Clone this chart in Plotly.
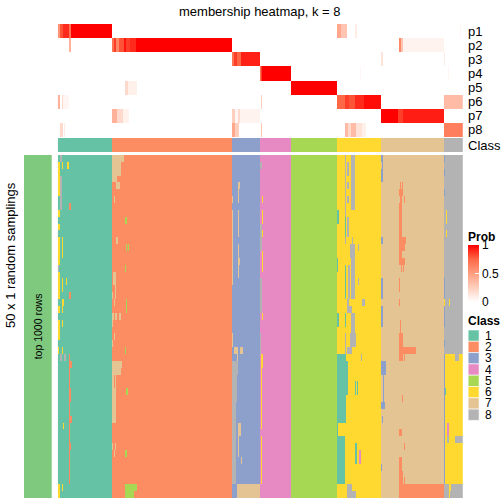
import numpy as np
import plotly.graph_objects as go

W, H = 504, 504
TITLE = "membership heatmap, k = 8"
PROB_ROWS = ["p1", "p2", "p3", "p4", "p5", "p6", "p7", "p8"]
CLASS_LABELS = ["1", "2", "3", "4", "5", "6", "7", "8"]
CLASS_COLORS = ["#66C2A5", "#FC8D62", "#8DA0CB", "#E78AC3",
                "#A6D854", "#FFD92F", "#E5C494", "#B3B3B3"]
CLASS_SIZES = [54, 121, 28, 31, 47, 44, 63, 19]
N_SAMPLINGS = 50
SAMPLING_COLOR = "#7FC97F"

# membership probability segments: (col_start, col_end, prob)
P1 = [(0, 1, 0.55), (2, 4, 0.8), (5, 10, 0.9), (11, 12, 0.7), (13, 53, 1.0),
      (281, 284, 0.45), (285, 290, 0.3), (299, 300, 0.1), (404, 404, 0.05)]
P2 = [(11, 12, 0.4), (54, 56, 0.7), (57, 58, 0.85), (59, 61, 0.6), (62, 66, 0.8),
      (67, 68, 0.95), (69, 72, 0.85), (73, 78, 0.9), (79, 174, 1.0),
      (343, 344, 0.6), (345, 346, 0.3), (347, 387, 0.06)]
P3 = [(175, 176, 0.7), (177, 179, 0.85), (180, 183, 0.75), (184, 202, 0.92),
      (325, 326, 0.15), (388, 388, 0.1)]
P4 = [(203, 203, 0.7), (204, 204, 0.85), (205, 233, 1.0), (304, 304, 0.04), (392, 392, 0.05)]
P5 = [(68, 70, 0.2), (71, 79, 0.08), (234, 280, 1.0)]
P6 = [(0, 1, 0.4), (4, 4, 0.2), (5, 10, 0.05), (204, 204, 0.25), (281, 288, 0.75),
      (289, 292, 0.85), (293, 298, 0.8), (299, 307, 0.9), (308, 324, 0.97), (388, 406, 0.35)]
P7 = [(54, 59, 0.4), (60, 65, 0.2), (66, 71, 0.07), (175, 177, 0.25), (178, 180, 0.05),
      (181, 182, 0.2), (183, 202, 0.06), (325, 341, 1.0), (342, 346, 0.85), (347, 387, 0.93)]
P8 = [(2, 4, 0.2), (6, 6, 0.1), (175, 177, 0.45), (178, 181, 0.25), (204, 204, 0.3),
      (289, 291, 0.35), (292, 294, 0.2), (295, 299, 0.35), (300, 305, 0.15),
      (306, 309, 0.08), (388, 406, 0.65)]
PROB_SEGMENTS = [P1, P2, P3, P4, P5, P6, P7, P8]
PROB_TICKS = [0, 0.5, 1]

# per-sampling class deviations: (row_start, row_end, col_start, col_end, class)
DEV_C1 = [(1, 5, 0, 1, 6), (8, 8, 0, 1, 6), (10, 10, 0, 1, 6), (12, 15, 0, 1, 6),
          (16, 16, 0, 0, 8), (17, 20, 0, 1, 6), (22, 22, 0, 1, 6), (24, 26, 0, 1, 6),
          (28, 28, 0, 0, 6), (48, 49, 0, 1, 6), (0, 0, 2, 3, 8), (3, 7, 2, 3, 8),
          (1, 1, 4, 4, 6), (1, 1, 9, 10, 6), (7, 7, 11, 12, 2), (12, 14, 4, 4, 6),
          (18, 18, 8, 8, 6), (18, 19, 4, 4, 6), (20, 20, 11, 12, 2), (21, 21, 4, 5, 6),
          (22, 22, 4, 4, 6), (24, 24, 4, 4, 6), (28, 28, 4, 4, 6), (29, 29, 2, 3, 8),
          (29, 29, 6, 7, 8), (29, 47, 11, 11, 2), (30, 30, 11, 13, 2), (34, 35, 11, 12, 2),
          (38, 38, 11, 13, 2), (42, 42, 11, 12, 2), (39, 39, 5, 5, 6), (48, 48, 4, 4, 6)]
DEV_C2 = [(0, 0, 54, 66, 7), (1, 2, 54, 63, 7), (3, 3, 55, 59, 7), (4, 4, 59, 62, 7),
          (6, 6, 57, 57, 7), (9, 9, 68, 69, 5), (12, 12, 59, 60, 7), (13, 13, 69, 69, 5),
          (13, 13, 71, 71, 5), (16, 16, 68, 68, 5), (17, 18, 54, 54, 7), (17, 18, 56, 58, 7),
          (19, 20, 58, 58, 7), (20, 20, 54, 55, 7), (21, 21, 57, 57, 7), (21, 22, 69, 69, 5),
          (23, 23, 55, 56, 7), (23, 23, 58, 59, 7), (23, 23, 62, 63, 7), (24, 24, 55, 55, 7),
          (26, 26, 57, 57, 7), (27, 27, 55, 55, 7), (28, 28, 68, 68, 5), (30, 31, 54, 63, 7),
          (30, 30, 64, 64, 7), (32, 33, 54, 56, 7), (32, 33, 58, 58, 7), (34, 38, 54, 58, 7),
          (34, 34, 69, 70, 5), (42, 42, 55, 55, 7), (42, 42, 58, 58, 7), (43, 43, 57, 57, 7),
          (43, 43, 68, 69, 5), (48, 49, 68, 69, 5), (48, 48, 70, 79, 5), (49, 49, 70, 76, 5)]
DEV_C3 = [(6, 6, 175, 175, 7), (8, 18, 175, 175, 7), (4, 4, 181, 182, 7), (5, 6, 181, 181, 7),
          (8, 11, 181, 181, 7), (13, 17, 181, 181, 7), (15, 15, 182, 182, 7),
          (26, 27, 175, 175, 7), (28, 28, 177, 179, 7), (28, 28, 183, 185, 7),
          (28, 29, 180, 180, 7), (30, 31, 175, 180, 8), (32, 35, 175, 179, 8),
          (36, 47, 175, 178, 8), (39, 40, 181, 183, 7), (41, 43, 181, 181, 7),
          (44, 44, 184, 184, 7), (48, 49, 180, 202, 7)]
DEV_C4 = [(1, 1, 203, 204, 8), (10, 13, 203, 204, 8), (18, 22, 203, 204, 8),
          (6, 6, 205, 205, 6), (8, 9, 205, 205, 6), (11, 11, 205, 205, 6),
          (14, 16, 205, 205, 6), (23, 23, 205, 205, 6), (26, 28, 203, 203, 8),
          (29, 30, 204, 205, 6), (31, 39, 204, 204, 6), (41, 47, 204, 204, 6)]
DEV_C6 = [(0, 12, 289, 289, 8), (0, 7, 295, 298, 8), (1, 2, 291, 292, 8), (4, 4, 291, 292, 8),
          (6, 6, 291, 292, 8), (9, 11, 291, 292, 8), (12, 12, 296, 296, 8),
          (13, 14, 294, 298, 8), (13, 13, 302, 302, 8), (15, 15, 295, 298, 8),
          (16, 20, 292, 293, 8), (16, 20, 295, 298, 8), (18, 18, 302, 302, 8),
          (21, 21, 291, 292, 8), (21, 21, 306, 308, 8), (22, 22, 291, 295, 8),
          (23, 25, 295, 298, 8), (8, 9, 281, 282, 1), (15, 16, 281, 281, 1),
          (23, 24, 281, 282, 1), (9, 11, 289, 289, 1), (16, 20, 289, 289, 1),
          (23, 24, 289, 289, 1), (26, 27, 294, 299, 8), (26, 28, 289, 289, 8),
          (28, 28, 291, 295, 8), (29, 29, 305, 305, 8), (29, 38, 281, 289, 1),
          (30, 34, 290, 291, 1), (33, 34, 299, 299, 1), (33, 34, 301, 301, 1),
          (39, 40, 281, 281, 1), (41, 47, 281, 288, 1), (42, 44, 299, 300, 1),
          (43, 44, 303, 304, 4), (48, 49, 291, 295, 8), (49, 49, 295, 299, 8)]
DEV_C7 = [(0, 0, 325, 326, 3), (1, 1, 326, 326, 3), (2, 3, 325, 326, 3), (12, 12, 325, 326, 3),
          (18, 20, 325, 326, 3), (22, 24, 325, 326, 3), (4, 4, 344, 344, 2), (4, 4, 346, 346, 2),
          (5, 5, 343, 346, 2), (6, 6, 344, 345, 2), (6, 6, 348, 348, 2), (7, 15, 343, 345, 2),
          (12, 13, 343, 348, 2), (12, 12, 349, 349, 2), (15, 15, 343, 348, 2),
          (16, 16, 345, 345, 2), (16, 16, 347, 347, 2), (18, 19, 343, 343, 2),
          (21, 21, 343, 343, 2), (24, 25, 344, 344, 2), (26, 27, 343, 346, 2),
          (28, 28, 343, 359, 2), (29, 29, 343, 346, 2), (28, 29, 348, 348, 2),
          (30, 31, 325, 328, 3), (30, 31, 329, 329, 3), (32, 35, 327, 327, 3),
          (36, 36, 325, 328, 3), (38, 38, 326, 326, 3), (35, 35, 346, 346, 2),
          (40, 40, 343, 345, 2), (42, 42, 348, 348, 2), (45, 45, 325, 325, 3),
          (44, 45, 343, 345, 2), (46, 47, 343, 346, 2), (47, 47, 348, 348, 2),
          (48, 49, 343, 387, 2)]
DEV_C8 = [(29, 47, 388, 406, 6), (29, 29, 399, 402, 8), (39, 40, 391, 392, 4),
          (41, 41, 391, 392, 8), (41, 41, 399, 406, 8), (0, 0, 388, 388, 3),
          (2, 2, 388, 388, 3), (5, 5, 388, 388, 3), (18, 20, 388, 388, 3),
          (22, 24, 388, 388, 3), (27, 27, 388, 388, 3), (29, 47, 388, 388, 3),
          (8, 9, 390, 390, 6), (11, 11, 390, 390, 6), (21, 21, 388, 388, 6),
          (21, 21, 393, 393, 6), (34, 34, 389, 389, 1), (48, 48, 393, 394, 6),
          (49, 49, 393, 393, 6)]
DEVIATIONS = [DEV_C1, DEV_C2, DEV_C3, DEV_C4, DEV_C6, DEV_C7, DEV_C8]

# ---- build matrices ----
n_cols = sum(CLASS_SIZES)
col_class = np.repeat(np.arange(1, 9), CLASS_SIZES)

prob = np.zeros((len(PROB_ROWS), n_cols))
for i, segs in enumerate(PROB_SEGMENTS):
    for c0, c1, v in segs:
        prob[i, c0:c1 + 1] = v

samp = np.tile(col_class, (N_SAMPLINGS, 1)).astype(float)
for group in DEVIATIONS:
    for r0, r1, c0, c1, k in group:
        samp[r0:r1 + 1, c0:c1 + 1] = k

class_scale = []
for i, c in enumerate(CLASS_COLORS):
    class_scale.append([i / 8, c])
    class_scale.append([(i + 1) / 8, c])
prob_scale = [[0, "#FFFFFF"], [0.25, "#FFCFBE"], [0.5, "#FF9E81"],
              [0.75, "#FF6846"], [1, "#FF0000"]]


def xd(a, b):
    return [a / W, b / W]


def yd(top, bottom):
    return [1 - bottom / H, 1 - top / H]


FONT = "Liberation Sans, Arial, Helvetica, sans-serif"
TOP_Y0, TOP_Y1 = 24, 137
CLS_Y0, CLS_Y1 = 138, 152
MAIN_Y0, MAIN_Y1 = 155, 498
HM_X0, HM_X1 = 58, 465
CB_TOP, CB_BOT = 245, 302

fig = go.Figure()
cols = list(range(n_cols))

fig.add_trace(go.Heatmap(
    z=prob, x=cols, y=PROB_ROWS, colorscale=prob_scale, zmin=0, zmax=1,
    xaxis="x", yaxis="y", hoverinfo="skip",
    colorbar=dict(x=470 / W, xanchor="left", y=1 - CB_TOP / H, yanchor="top",
                  len=(CB_BOT - CB_TOP) / H, lenmode="fraction", thickness=11,
                  thicknessmode="pixels", xpad=0, ypad=0, outlinewidth=0,
                  tickvals=PROB_TICKS, ticktext=[str(t) for t in PROB_TICKS],
                  ticks="inside", ticklen=4, tickcolor="white",
                  tickfont=dict(size=12, family=FONT, color="#000"))))

fig.add_trace(go.Heatmap(
    z=[col_class], x=cols, y=["Class"], colorscale=class_scale, zmin=0.5, zmax=8.5,
    showscale=False, xaxis="x2", yaxis="y2", hoverinfo="skip"))

fig.add_trace(go.Heatmap(
    z=samp, x=cols, y=list(range(N_SAMPLINGS)), colorscale=class_scale, zmin=0.5, zmax=8.5,
    showscale=False, xaxis="x3", yaxis="y3", hoverinfo="skip"))

fig.add_trace(go.Heatmap(
    z=[[1]] * N_SAMPLINGS, x=[0], y=list(range(N_SAMPLINGS)),
    colorscale=[[0, SAMPLING_COLOR], [1, SAMPLING_COLOR]],
    showscale=False, xaxis="x4", yaxis="y4", hoverinfo="skip"))

ax = dict(visible=False, showgrid=False, zeroline=False, fixedrange=True)
fig.update_layout(
    width=W, height=H, margin=dict(l=0, r=0, t=0, b=0),
    paper_bgcolor="white", plot_bgcolor="white", showlegend=False,
    xaxis=dict(ax, domain=xd(HM_X0, HM_X1), range=[-0.5, n_cols - 0.5]),
    yaxis=dict(ax, domain=yd(TOP_Y0, TOP_Y1), autorange="reversed"),
    xaxis2=dict(ax, domain=xd(HM_X0, HM_X1), range=[-0.5, n_cols - 0.5]),
    yaxis2=dict(ax, domain=yd(CLS_Y0, CLS_Y1)),
    xaxis3=dict(ax, domain=xd(HM_X0, HM_X1), range=[-0.5, n_cols - 0.5]),
    yaxis3=dict(ax, domain=yd(MAIN_Y0, MAIN_Y1), autorange="reversed"),
    xaxis4=dict(ax, domain=xd(24, 52)),
    yaxis4=dict(ax, domain=yd(MAIN_Y0, MAIN_Y1), autorange="reversed"),
)

ann = []
ann.append(dict(text=TITLE, x=261.5 / W, y=1 - 11 / H, xref="paper", yref="paper",
                showarrow=False, xanchor="center", yanchor="middle",
                font=dict(size=13, family=FONT, color="#000")))
row_h = (TOP_Y1 - TOP_Y0) / len(PROB_ROWS)
for i, name in enumerate(PROB_ROWS):
    ann.append(dict(text=name, x=468 / W, y=1 - (TOP_Y0 + (i + 0.5) * row_h) / H,
                    xref="paper", yref="paper", showarrow=False, xanchor="left",
                    yanchor="middle", font=dict(size=13, family=FONT, color="#000")))
ann.append(dict(text="Class", x=468 / W, y=1 - (CLS_Y0 + CLS_Y1) / 2 / H,
                xref="paper", yref="paper", showarrow=False, xanchor="left",
                yanchor="middle", font=dict(size=13, family=FONT, color="#000")))
ann.append(dict(text="50 x 1 random samplings", x=10 / W, y=1 - 255 / H,
                xref="paper", yref="paper", showarrow=False, textangle=-90,
                xanchor="center", yanchor="middle",
                font=dict(size=13, family=FONT, color="#000")))
ann.append(dict(text="top 1000 rows", x=38 / W, y=1 - (MAIN_Y0 + MAIN_Y1) / 2 / H,
                xref="paper", yref="paper", showarrow=False, textangle=-90,
                xanchor="center", yanchor="middle",
                font=dict(size=10.5, family=FONT, color="#000")))
# legend titles
ann.append(dict(text="<b>Prob</b>", x=468 / W, y=1 - 237 / H, xref="paper", yref="paper",
                showarrow=False, xanchor="left", yanchor="middle",
                font=dict(size=12, family=FONT, color="#000")))
ann.append(dict(text="<b>Class</b>", x=468 / W, y=1 - 321 / H, xref="paper", yref="paper",
                showarrow=False, xanchor="left", yanchor="middle",
                font=dict(size=12, family=FONT, color="#000")))
shapes = []
LEG_TOP, LEG_H = 330, 11.3
for i, (lab, col) in enumerate(zip(CLASS_LABELS, CLASS_COLORS)):
    t = LEG_TOP + i * LEG_H
    shapes.append(dict(type="rect", xref="paper", yref="paper",
                       x0=470 / W, x1=481 / W, y0=1 - (t + LEG_H) / H, y1=1 - t / H,
                       fillcolor=col, line=dict(width=0.6, color="white")))
    ann.append(dict(text=lab, x=485 / W, y=1 - (t + LEG_H / 2) / H, xref="paper",
                    yref="paper", showarrow=False, xanchor="left", yanchor="middle",
                    font=dict(size=12, family=FONT, color="#000")))

fig.update_layout(annotations=ann, shapes=shapes)
fig.write_html("out.html", config={"displayModeBar": False},
               post_script="document.body.style.margin='0';document.body.style.overflow='hidden';")
